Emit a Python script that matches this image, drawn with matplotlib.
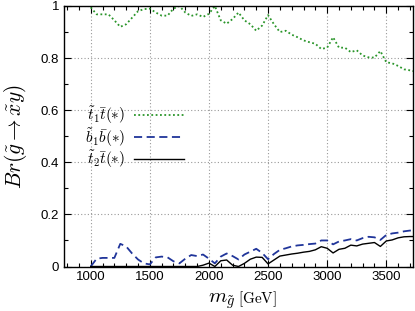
import matplotlib
matplotlib.use('Agg')
import matplotlib.pyplot as plt
import numpy
from matplotlib.ticker import MultipleLocator

plt.rcParams['font.family'] = ['Liberation Sans', 'DejaVu Sans']
plt.rcParams['mathtext.fontset'] = 'cm'

# gluino mass grid [GeV]
mass = numpy.arange(1000, 3800, 50)

br_t1t = [0.995, 0.968, 0.968, 0.968, 0.945, 0.92, 0.93, 0.955, 0.98, 0.988,
          0.99, 0.975, 0.963, 0.963, 0.99, 1.0, 0.975, 0.962, 0.968, 0.958,
          0.97, 1.0, 0.945, 0.932, 0.95, 0.975, 0.945, 0.93, 0.905, 0.925,
          0.965, 0.93, 0.9, 0.905, 0.89, 0.88, 0.868, 0.861, 0.855, 0.835,
          0.84, 0.88, 0.84, 0.84, 0.823, 0.83, 0.81, 0.803, 0.802, 0.827,
          0.784, 0.78, 0.77, 0.757, 0.753, 0.748]

br_b1b = [0.0, 0.03, 0.033, 0.033, 0.033, 0.087, 0.077, 0.05, 0.027, 0.012,
          0.008, 0.035, 0.038, 0.035, 0.02, 0.012, 0.03, 0.044, 0.04, 0.046,
          0.03, 0.012, 0.038, 0.05, 0.04, 0.027, 0.046, 0.057, 0.068, 0.052,
          0.028, 0.048, 0.064, 0.07, 0.077, 0.081, 0.083, 0.086, 0.088, 0.1,
          0.1, 0.085, 0.096, 0.1, 0.105, 0.1, 0.109, 0.114, 0.112, 0.102,
          0.121, 0.127, 0.13, 0.135, 0.138, 0.138]

br_t2t = [0.0, 0.0, 0.0, 0.0, 0.0, 0.0, 0.0, 0.0, 0.0, 0.0,
          0.0, 0.0, 0.0, 0.0, 0.0, 0.0, 0.0, 0.0, 0.0, 0.005,
          0.013, 0.0, 0.022, 0.025, 0.005, 0.0, 0.012, 0.028, 0.036, 0.035,
          0.01, 0.025, 0.04, 0.044, 0.048, 0.051, 0.055, 0.058, 0.064, 0.076,
          0.07, 0.052, 0.066, 0.07, 0.082, 0.079, 0.086, 0.089, 0.092, 0.077,
          0.098, 0.102, 0.11, 0.114, 0.115, 0.115]

labels = [r'$\tilde{t}_1\bar{t}(*)$', r'$\tilde{b}_1\bar{b}(*)$', r'$\tilde{t}_2\bar{t}(*)$']

fig = plt.figure(figsize=(4.15, 3.11), dpi=100)
ax = fig.add_axes([64 / 415.0, 1 - 266.5 / 311.0, 349 / 415.0, 260.5 / 311.0])

ax.plot(mass, br_t1t, color='#2a952a', linestyle=(0, (1, 1.4)), linewidth=1.3, label=labels[0])
ax.plot(mass, br_b1b, color='#20359a', linestyle=(0, (4.5, 2.5)), linewidth=1.3, label=labels[1])
ax.plot(mass, br_t2t, color='black', linestyle='-', linewidth=1.0, label=labels[2])

ax.set_xlim(774, 3726)
ax.set_ylim(0, 1)
ax.xaxis.set_major_locator(MultipleLocator(500))
ax.xaxis.set_minor_locator(MultipleLocator(100))
ax.yaxis.set_minor_locator(MultipleLocator(0.1))
ax.set_yticks([0, 0.2, 0.4, 0.6, 0.8, 1.0])
ax.set_yticklabels(['0', '0.2', '0.4', '0.6', '0.8', '1'])
ax.tick_params(which='both', direction='in', top=True, right=True, labelsize=9.5)
ax.tick_params(which='major', length=5, width=0.8)
ax.tick_params(which='minor', length=3, width=0.8)
for s in ax.spines.values():
    s.set_linewidth(1.0)

ax.grid(True, which='major', color='#999999', linestyle=(0, (1, 2)), linewidth=0.8)

ax.set_ylabel(r'$Br(\tilde{g}\rightarrow\tilde{x}y)$', fontsize=15.5)
ax.yaxis.set_label_coords(-0.1, 0.5)
fig.text(235 / 415.0, 1 - 302 / 311.0, r'$m_{\tilde{g}}$', fontsize=15, ha='right', va='baseline')
fig.text(238 / 415.0, 1 - 303 / 311.0, r'$\mathrm{[GeV]}$', fontsize=11, ha='left', va='baseline')

ax.legend(loc='upper left', bbox_to_anchor=(0.02, 0.675), frameon=False, markerfirst=False,
          fontsize=11, handlelength=3.3, labelspacing=0.0, handletextpad=0.6)

plt.savefig('out.png', dpi=100)
